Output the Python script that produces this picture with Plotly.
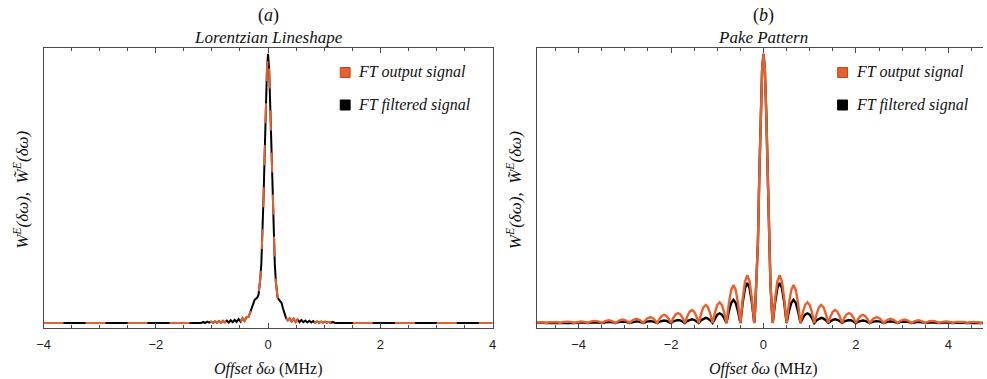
import plotly.graph_objects as go

W, H = 987, 379

# ---------------- (a) Lorentzian lineshape ----------------
lorentz_offset = [
    -4.0, -3.0, -2.0, -1.5, -1.225,
    -1.19, -1.155, -1.12, -1.085, -1.05, -1.015, -0.98, -0.945, -0.91, -0.875,
    -0.84, -0.805, -0.77, -0.735, -0.70, -0.665, -0.63, -0.595, -0.56, -0.525,
    -0.49, -0.455, -0.42, -0.385,
    -0.35, -0.32, -0.29, -0.265, -0.24, -0.215, -0.19, -0.17, -0.155, -0.14,
    -0.12, -0.10, -0.08, -0.06, -0.04, -0.02, 0.0,
    0.02, 0.04, 0.06, 0.08, 0.10, 0.12, 0.14, 0.155, 0.17, 0.19,
    0.215, 0.24, 0.265, 0.29, 0.32, 0.35,
    0.385, 0.42, 0.455, 0.49, 0.525, 0.56, 0.595, 0.63, 0.665, 0.70,
    0.735, 0.77, 0.805, 0.84, 0.875, 0.91, 0.945, 0.98, 1.015, 1.05,
    1.085, 1.12, 1.155, 1.19,
    1.225, 1.5, 2.0, 3.0, 4.0,
]
lorentz_output = [
    0.0, 0.0, 0.0, 0.0, 0.0,
    0.000, 0.004, 0.000, 0.005, 0.001, 0.005, 0.001, 0.006, 0.001, 0.007,
    0.001, 0.008, 0.002, 0.009, 0.002, 0.010, 0.003, 0.012, 0.004, 0.014,
    0.005, 0.018, 0.008, 0.021,
    0.022, 0.038, 0.055, 0.075, 0.086, 0.090, 0.095, 0.105, 0.125, 0.16,
    0.22, 0.33, 0.47, 0.63, 0.80, 0.94, 1.0,
    0.94, 0.80, 0.63, 0.47, 0.33, 0.22, 0.15, 0.115, 0.095, 0.088,
    0.083, 0.075, 0.055, 0.035, 0.018, 0.010,
    0.017, 0.006, 0.016, 0.004, 0.013, 0.003, 0.011, 0.003, 0.009, 0.002,
    0.008, 0.002, 0.007, 0.001, 0.006, 0.001, 0.005, 0.001, 0.005, 0.001,
    0.004, 0.000, 0.004, 0.000,
    0.0, 0.0, 0.0, 0.0, 0.0,
]
# the filtered trace lies on top of the raw one at this scale
lorentz_filtered = list(lorentz_output)

# ---------------- (b) Pake pattern ----------------
pake_offset = [
    -5.0,
    -4.925, -4.85, -4.775, -4.7,
    -4.625, -4.55, -4.475, -4.4,
    -4.325, -4.25, -4.175, -4.1,
    -4.025, -3.95, -3.875, -3.8,
    -3.725, -3.65, -3.575, -3.5,
    -3.425, -3.35, -3.275, -3.2,
    -3.125, -3.05, -2.975, -2.9,
    -2.825, -2.75, -2.675, -2.6,
    -2.525, -2.45, -2.375, -2.3,
    -2.25, -2.2, -2.15, -2.1, -2.05, -2.0,
    -1.95, -1.9, -1.85, -1.8, -1.75, -1.7,
    -1.65, -1.6, -1.55, -1.5, -1.45, -1.4,
    -1.35, -1.3, -1.25, -1.2, -1.15, -1.1,
    -1.05, -1.0, -0.95, -0.9, -0.85, -0.8,
    -0.75, -0.7, -0.65, -0.6, -0.55, -0.5,
    -0.45, -0.4, -0.35, -0.3, -0.25, -0.2,
    -0.18, -0.15, -0.12, -0.09, -0.06, -0.03, 0.0, 0.03, 0.06, 0.09, 0.12, 0.15, 0.18,
    0.2, 0.25, 0.3, 0.35, 0.4, 0.45,
    0.5, 0.55, 0.6, 0.65, 0.7, 0.75,
    0.8, 0.85, 0.9, 0.95, 1.0, 1.05,
    1.1, 1.15, 1.2, 1.25, 1.3, 1.35,
    1.4, 1.45, 1.5, 1.55, 1.6, 1.65,
    1.7, 1.75, 1.8, 1.85, 1.9, 1.95,
    2.0, 2.05, 2.1, 2.15, 2.2, 2.25,
    2.3, 2.375, 2.45, 2.525,
    2.6, 2.675, 2.75, 2.825,
    2.9, 2.975, 3.05, 3.125,
    3.2, 3.275, 3.35, 3.425,
    3.5, 3.575, 3.65, 3.725,
    3.8, 3.875, 3.95, 4.025,
    4.1, 4.175, 4.25, 4.325,
    4.4, 4.475, 4.55, 4.625,
    4.7, 4.775, 4.85, 4.925,
    5.0,
]
pake_output = [
    0.0,
    0.002, 0.003, 0.002, 0.0,
    0.003, 0.004, 0.003, 0.0,
    0.004, 0.005, 0.004, 0.0,
    0.004, 0.006, 0.004, 0.0,
    0.006, 0.008, 0.006, 0.0,
    0.007, 0.010, 0.007, 0.0,
    0.009, 0.013, 0.009, 0.0,
    0.011, 0.016, 0.011, 0.0,
    0.016, 0.022, 0.016, 0.0,
    0.015, 0.026, 0.030, 0.026, 0.015, 0.0,
    0.019, 0.032, 0.037, 0.032, 0.019, 0.0,
    0.024, 0.042, 0.048, 0.042, 0.024, 0.0,
    0.034, 0.058, 0.067, 0.058, 0.034, 0.0,
    0.039, 0.067, 0.077, 0.067, 0.039, 0.0,
    0.071, 0.122, 0.141, 0.122, 0.071, 0.0,
    0.089, 0.154, 0.178, 0.154, 0.089, 0.0,
    0.05, 0.15, 0.30, 0.55, 0.78, 0.94, 1.0, 0.94, 0.78, 0.55, 0.30, 0.15, 0.05,
    0.0, 0.089, 0.154, 0.178, 0.154, 0.089,
    0.0, 0.071, 0.122, 0.141, 0.122, 0.071,
    0.0, 0.039, 0.067, 0.077, 0.067, 0.039,
    0.0, 0.034, 0.058, 0.067, 0.058, 0.034,
    0.0, 0.024, 0.042, 0.048, 0.042, 0.024,
    0.0, 0.019, 0.032, 0.037, 0.032, 0.019,
    0.0, 0.015, 0.026, 0.030, 0.026, 0.015,
    0.0, 0.016, 0.022, 0.016,
    0.0, 0.011, 0.016, 0.011,
    0.0, 0.009, 0.013, 0.009,
    0.0, 0.007, 0.010, 0.007,
    0.0, 0.006, 0.008, 0.006,
    0.0, 0.004, 0.006, 0.004,
    0.0, 0.004, 0.005, 0.004,
    0.0, 0.003, 0.004, 0.003,
    0.0, 0.002, 0.003, 0.002,
    0.0,
]
pake_filtered = [
    0.0,
    0.001, 0.002, 0.001, 0.0,
    0.001, 0.002, 0.001, 0.0,
    0.001, 0.002, 0.001, 0.0,
    0.002, 0.003, 0.002, 0.0,
    0.002, 0.003, 0.002, 0.0,
    0.003, 0.004, 0.003, 0.0,
    0.004, 0.005, 0.004, 0.0,
    0.004, 0.006, 0.004, 0.0,
    0.005, 0.007, 0.005, 0.0,
    0.005, 0.008, 0.009, 0.008, 0.005, 0.0,
    0.006, 0.010, 0.011, 0.010, 0.006, 0.0,
    0.007, 0.012, 0.014, 0.012, 0.007, 0.0,
    0.010, 0.016, 0.019, 0.016, 0.010, 0.0,
    0.018, 0.031, 0.036, 0.031, 0.018, 0.0,
    0.043, 0.074, 0.086, 0.074, 0.043, 0.0,
    0.075, 0.129, 0.149, 0.129, 0.075, 0.0,
    0.05, 0.15, 0.30, 0.55, 0.78, 0.94, 1.0, 0.94, 0.78, 0.55, 0.30, 0.15, 0.05,
    0.0, 0.075, 0.129, 0.149, 0.129, 0.075,
    0.0, 0.043, 0.074, 0.086, 0.074, 0.043,
    0.0, 0.018, 0.031, 0.036, 0.031, 0.018,
    0.0, 0.010, 0.016, 0.019, 0.016, 0.010,
    0.0, 0.007, 0.012, 0.014, 0.012, 0.007,
    0.0, 0.006, 0.010, 0.011, 0.010, 0.006,
    0.0, 0.005, 0.008, 0.009, 0.008, 0.005,
    0.0, 0.005, 0.007, 0.005,
    0.0, 0.004, 0.006, 0.004,
    0.0, 0.004, 0.005, 0.004,
    0.0, 0.003, 0.004, 0.003,
    0.0, 0.002, 0.003, 0.002,
    0.0, 0.002, 0.003, 0.002,
    0.0, 0.001, 0.002, 0.001,
    0.0, 0.001, 0.002, 0.001,
    0.0, 0.001, 0.002, 0.001,
    0.0,
]

series_names = ["FT output signal", "FT filtered signal"]
panel_letters = ["a", "b"]
panel_titles = ["Lorentzian Lineshape", "Pake Pattern"]
x_title = "<i>Offset δω</i> (MHz)"
y_title = "<i>W<sup>E</sup>(δω),  W̃<sup>E</sup>(δω)</i>"

ORANGE = "#E8612C"
ORANGE_EDGE = "#B94A22"
FRAME = "#4a4a4a"
SERIF = "Liberation Serif"
SANS = "Liberation Sans"


def px(x):
    return x / W


def py(y):
    return 1 - y / H


fig = go.Figure()

# panel (a): raw signal dashed over the filtered one
fig.add_trace(go.Scatter(x=lorentz_offset, y=lorentz_filtered, mode="lines",
                         line=dict(color="black", width=2), name=series_names[1],
                         xaxis="x", yaxis="y", showlegend=False))
fig.add_trace(go.Scatter(x=lorentz_offset, y=lorentz_output, mode="lines",
                         line=dict(color=ORANGE, width=2, dash="20px,22px"),
                         name=series_names[0], xaxis="x", yaxis="y", showlegend=False))
# panel (b)
fig.add_trace(go.Scatter(x=pake_offset, y=pake_filtered, mode="lines",
                         line=dict(color="black", width=2.4), name=series_names[1],
                         xaxis="x2", yaxis="y2", showlegend=False))
fig.add_trace(go.Scatter(x=pake_offset, y=pake_output, mode="lines",
                         line=dict(color=ORANGE, width=2.4), name=series_names[0],
                         xaxis="x2", yaxis="y2", showlegend=False))

y_dom = [py(328), py(48)]
y_rng = [-0.0186, 1.022]

xcommon = dict(
    showline=True, linecolor=FRAME, linewidth=1, mirror="ticks",
    ticks="inside", ticklen=5, tickwidth=1, tickcolor=FRAME,
    tick0=0, dtick=2,
    minor=dict(dtick=0.5, ticks="inside", ticklen=3, tickwidth=1, tickcolor=FRAME),
    showgrid=False, zeroline=False,
    tickfont=dict(family=SANS, size=13, color="#222"),
    ticklabelstandoff=4,
)
ycommon = dict(
    showline=True, linecolor=FRAME, linewidth=1,
    ticks="", showticklabels=False, showgrid=False, zeroline=False,
    range=y_rng, domain=y_dom,
)

fig.update_layout(
    width=W, height=H,
    margin=dict(l=0, r=0, t=0, b=0),
    paper_bgcolor="white", plot_bgcolor="white",
    showlegend=False,
    xaxis=dict(domain=[px(37), px(491)], range=[-4, 4], anchor="y", **xcommon),
    yaxis=dict(anchor="x", mirror=True, **ycommon),
    xaxis2=dict(domain=[px(536), 1.0], range=[-4.9, 4.75], anchor="y2", **xcommon),
    yaxis2=dict(anchor="x2", mirror=False, **ycommon),
)

annotations = []
shapes = []
panels = [
    dict(cx=264, ytx=14, lx_sq=337, lx_tx=353),
    dict(cx=765, ytx=513, lx_sq=840, lx_tx=857),
]
for i, p in enumerate(panels):
    annotations.append(dict(text=f"(<i>{panel_letters[i]}</i>)", x=px(p["cx"]), y=py(15),
                            xref="paper", yref="paper", showarrow=False,
                            xanchor="center", yanchor="middle",
                            font=dict(family=SERIF, size=18, color="#111")))
    annotations.append(dict(text=f"<i>{panel_titles[i]}</i>", x=px(p["cx"]), y=py(37),
                            xref="paper", yref="paper", showarrow=False,
                            xanchor="center", yanchor="middle",
                            font=dict(family=SERIF, size=17, color="#111")))
    annotations.append(dict(text=x_title, x=px(p["cx"]), y=py(369),
                            xref="paper", yref="paper", showarrow=False,
                            xanchor="center", yanchor="middle",
                            font=dict(family=SERIF, size=16, color="#111")))
    annotations.append(dict(text=y_title, x=px(p["ytx"]), y=py(190), textangle=-90,
                            xref="paper", yref="paper", showarrow=False,
                            xanchor="center", yanchor="middle",
                            font=dict(family=SERIF, size=17, color="#111")))
    # legend swatches and labels
    for j, (fill, edge, yc) in enumerate([(ORANGE, ORANGE_EDGE, 72.5), ("black", "black", 105)]):
        shapes.append(dict(type="rect", xref="paper", yref="paper",
                           x0=px(p["lx_sq"]), x1=px(p["lx_sq"] + 10),
                           y0=py(yc + 5), y1=py(yc - 5),
                           fillcolor=fill, line=dict(color=edge, width=1)))
        annotations.append(dict(text=f"<i>{series_names[j]}</i>", x=px(p["lx_tx"]), y=py(yc),
                                xref="paper", yref="paper", showarrow=False,
                                xanchor="left", yanchor="middle",
                                font=dict(family=SERIF, size=16, color="#111")))

fig.update_layout(annotations=annotations, shapes=shapes)
fig.write_html("out.html")
